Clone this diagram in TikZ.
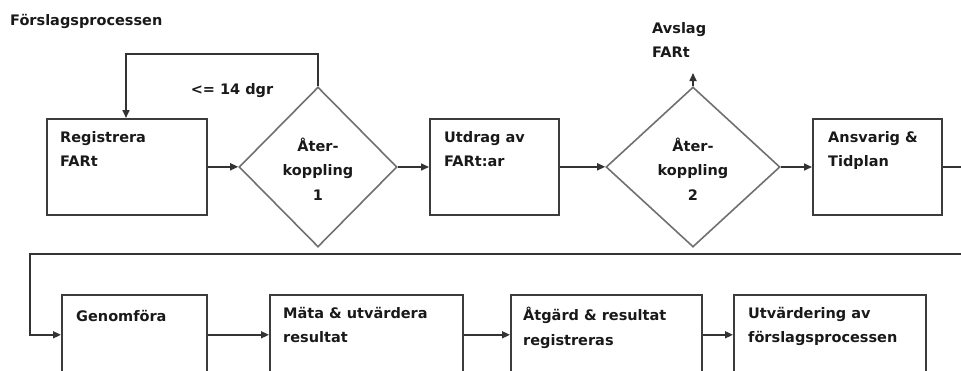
\documentclass[tikz,border=0pt]{standalone}
\usepackage{fontspec}
\setmainfont{DejaVu Sans}
\usetikzlibrary{arrows.meta,shapes.geometric}
\definecolor{boxline}{HTML}{3C3C3C}
\definecolor{dialine}{HTML}{707070}
\tikzset{
  every picture/.style={x=1pt,y=-1pt},
  txt/.style={font=\bfseries\fontsize{14.5}{24.5}\selectfont, inner sep=0pt, align=left, text=black!90},
  stepbox/.style={draw=boxline, line width=1.6pt, inner sep=0pt, anchor=north west},
  decision/.style={draw=dialine, line width=1.6pt, diamond, inner sep=0pt},
  conn/.style={draw=black!80, line width=1.6pt},
  arr/.style={conn, -{Triangle[length=8pt,width=7pt]}},
}
\begin{document}
\begin{tikzpicture}
\useasboundingbox (0,0) rectangle (961,370);
\clip (0,0) rectangle (961,370);

% title
\node[txt, anchor=west] (title) at (10,21) {Förslagsprocessen};

% first row
\node[stepbox, minimum width=160pt, minimum height=96pt] (reg) at (46,118) {};
\node[decision, minimum width=158pt, minimum height=160pt] (fb1) at (318,167) {};
\node[stepbox, minimum width=129pt, minimum height=96pt] (utd) at (429,118) {};
\node[decision, minimum width=174pt, minimum height=160pt] (fb2) at (693,167) {};
\node[stepbox, minimum width=129pt, minimum height=96pt] (ans) at (812,118) {};

\node[txt, anchor=north west] (regT) at (60,131) {Registrera\\FARt};
\node[txt, align=center] (fb1T) at (318,169) {Åter-\\koppling\\1};
\node[txt, anchor=north west] (utdT) at (444,131) {Utdrag av\\FARt:ar};
\node[txt, align=center] (fb2T) at (693,169) {Åter-\\koppling\\2};
\node[txt, anchor=north west] (ansT) at (828,131) {Ansvarig \&\\Tidplan};

\node[txt, anchor=center] (dgr) at (232,91) {<= 14 dgr};
\node[txt, anchor=north west] (avs) at (652,22) {Avslag\\FARt};

% second row
\node[stepbox, minimum width=145pt, minimum height=80pt] (gen) at (61,294) {};
\node[stepbox, minimum width=193pt, minimum height=80pt] (mat) at (269,294) {};
\node[stepbox, minimum width=191pt, minimum height=80pt] (atg) at (510,294) {};
\node[stepbox, minimum width=192pt, minimum height=80pt] (utv) at (733,294) {};

\node[txt, anchor=north west] (genT) at (76,310) {Genomföra};
\node[txt, anchor=north west] (matT) at (283,307) {Mäta \& utvärdera\\resultat};
\node[txt, anchor=north west] (atgT) at (523,307) {Åtgärd \& resultat\\registreras};
\node[txt, anchor=north west] (utvT) at (748,307) {Utvärdering av\\förslagsprocessen};

% helper points
\coordinate (loop) at (126,54);
\coordinate (reject) at (693,73);
\coordinate (outR) at (961,166);
\coordinate (wrapR) at (961,254);
\coordinate (wrapL) at (30,254);

% connectors, first row
\draw[arr] (reg.east) -- (reg.east -| fb1.west);
\draw[arr] (fb1.north) |- (loop) -- (loop |- reg.north);
\draw[arr] (fb1.east) -- (fb1.east -| utd.west);
\draw[arr] (utd.east) -- (utd.east -| fb2.west);
\draw[arr] (fb2.north) -- (reject);
\draw[arr] (fb2.east) -- (fb2.east -| ans.west);
\draw[conn] (ans.east) -- (ans.east -| outR);

% wrap to the second row
\draw[arr] (wrapR) -- (wrapL) |- (gen.west);
\draw[arr] (gen.east) -- (mat.west);
\draw[arr] (mat.east) -- (atg.west);
\draw[arr] (atg.east) -- (utv.west);
\end{tikzpicture}
\end{document}
